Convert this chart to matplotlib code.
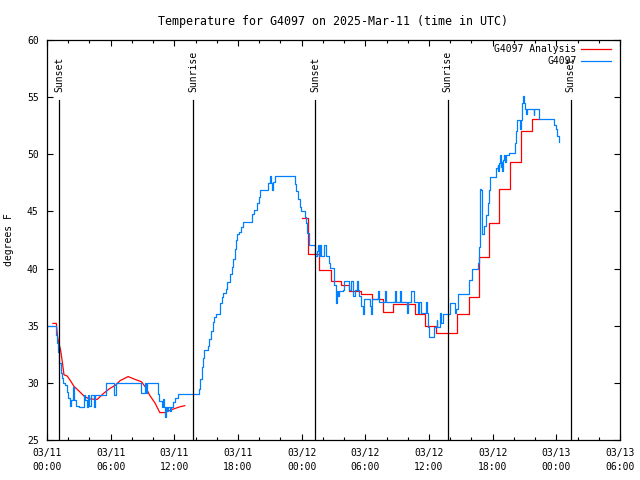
import matplotlib
matplotlib.use("Agg")
from matplotlib import pyplot as plt
from matplotlib.ticker import MultipleLocator

# hours since 2025-03-11 00:00 UTC
analysis_a_t = [0.56, 0.88, 1.0, 1.29, 1.45, 1.6, 1.9, 2.2, 2.54, 3.0, 3.48, 3.95,
                4.73, 5.36, 5.9, 6.46, 6.9, 7.65, 8.3, 8.9, 9.3, 9.69, 10.2, 10.63,
                11.1, 11.88, 12.5, 12.98]
analysis_a_v = [35.2, 35.2, 34.0, 32.8, 31.8, 30.7, 30.6, 30.2, 29.7, 29.3, 28.85, 28.6,
                28.55, 29.1, 29.5, 29.8, 30.2, 30.55, 30.3, 30.1, 29.6, 28.9, 28.2, 27.4,
                27.4, 27.7, 27.9, 28.0]

# second part of the analysis (stepped)
analysis_b_t = [24.0, 24.6, 25.68, 26.72, 27.7, 28.5, 29.6, 30.6, 31.65, 32.6, 34.65,
                35.6, 36.65, 38.6, 39.73, 40.73, 41.67, 42.6, 43.62, 44.65, 45.69, 46.4]
analysis_b_v = [44.4, 41.3, 39.9, 38.9, 38.6, 38.05, 37.8, 37.3, 36.2, 36.9, 36.0,
                34.95, 34.4, 36.0, 37.55, 41.0, 44.0, 47.0, 49.3, 52.0, 53.05, 53.05]

obs_t = [0.0, 0.75, 0.85, 0.95, 1.05, 1.15, 1.3, 1.4, 1.5, 1.7, 1.85, 2.0, 2.15, 2.3,
         2.45, 2.55, 2.7, 3.0, 3.3, 3.5, 3.6, 3.75, 3.9, 4.0, 4.1, 4.3, 4.45, 4.55,
         5.5, 5.6, 6.3, 6.35, 6.5, 8.8, 8.85, 9.2, 9.3, 9.45, 10.35, 10.45, 10.6,
         10.8, 10.9, 11.0, 11.1, 11.2, 11.3, 11.45, 11.6, 11.7, 11.9, 12.1, 12.35,
         14.05, 14.14, 14.3, 14.45, 14.6, 14.7, 14.77, 15.18, 15.3, 15.45, 15.6,
         15.75, 15.9, 16.22, 16.35, 16.48, 16.59, 16.85, 17.0, 17.2, 17.4, 17.55,
         17.7, 17.78, 17.9, 18.1, 18.3, 18.47, 19.19, 19.35, 19.47, 19.72, 19.8,
         19.95, 20.1, 20.73, 20.85, 20.98, 21.1, 21.2, 21.3, 21.45, 23.18, 23.35,
         23.5, 23.65, 23.8, 23.96, 24.2, 24.3, 24.4, 24.5, 24.68, 25.21, 25.3, 25.4,
         25.53, 25.68, 25.74, 25.85, 26.15, 26.25, 26.56, 26.68, 27.0, 27.09, 27.2,
         27.25, 27.3, 27.41, 27.5, 27.88, 28.03, 28.44, 28.5, 28.66, 28.88, 29.04,
         29.19, 29.29, 29.45, 29.6, 29.76, 29.91, 30.48, 30.54, 30.64, 31.2, 31.3,
         31.86, 31.95, 32.8, 32.9, 33.3, 33.4, 33.9, 34.0, 34.3, 34.6, 35.0, 35.1,
         35.25, 35.7, 35.8, 35.87, 35.97, 36.44, 36.5, 36.75, 36.8, 37.0, 37.1,
         37.29, 38.0, 38.38, 38.45, 38.55, 38.69, 39.73, 40.04, 40.58, 40.65, 40.73,
         40.8, 40.9, 40.98, 41.14, 41.2, 41.4, 41.52, 41.67, 41.77, 42.3, 42.36,
         42.46, 42.5, 42.6, 42.71, 42.77, 42.82, 42.87, 42.93, 43.0, 43.1, 43.2,
         43.25, 43.56, 44.12, 44.2, 44.34, 44.5, 44.55, 44.62, 44.7, 44.81, 44.9,
         44.96, 45.05, 45.15, 45.2, 45.8, 45.85, 45.93, 46.3, 46.38, 47.7, 47.8,
         47.95, 48.1, 48.26]
obs_v = [35.0, 35.0, 34.2, 33.5, 32.7, 31.7, 30.9, 30.4, 30.0, 29.8, 29.2, 28.7, 28.0, 28.5,
         29.6, 28.5, 28.0, 27.9, 27.9, 28.9, 28.5, 27.9, 28.9, 28.0, 28.9, 28.9, 27.9, 28.9,
         28.9, 30.0, 30.0, 28.9, 30.0, 30.0, 29.1, 30.0, 29.1, 30.0, 30.0, 29.0, 28.4,
         27.9, 28.6, 27.9, 27.0, 27.9, 27.5, 27.9, 27.5, 27.9, 28.3, 28.7, 29.0,
         29.0, 29.0, 29.5, 30.3, 31.4, 32.2, 32.9, 33.2, 33.8, 34.5, 35.3,
         35.8, 36.0, 36.0, 37.0, 37.5, 37.9, 38.2, 38.8, 39.5, 40.1, 40.8,
         41.7, 42.5, 43.0, 43.2, 43.6, 44.1, 44.1, 44.8, 45.1, 45.1, 45.7,
         46.3, 46.9, 46.9, 47.5, 48.1, 47.5, 46.9, 47.6, 48.1, 48.1, 47.4,
         46.8, 46.1, 45.4, 45.0, 45.0, 44.5, 44.0, 43.1, 42.06, 41.3, 41.1, 41.5,
         42.06, 41.1, 42.06, 41.1, 42.06, 41.1, 40.5, 40.06, 39.3, 38.6, 37.6,
         37.0, 38.0, 37.6, 38.0, 38.15, 38.9, 38.9, 38.15, 38.9, 37.6, 38.15,
         38.9, 38.15, 37.6, 36.7, 36.05, 37.3, 36.7, 36.05, 37.3, 38.0, 37.05,
         38.0, 37.05, 38.0, 37.05, 38.0, 37.05, 36.1, 37.05, 38.0, 37.05, 36.1, 37.05,
         36.1, 37.05, 36.1, 34.9, 34.0, 34.0, 34.9, 35.5, 34.9, 36.1, 35.2,
         36.0, 37.0, 37.0, 36.1, 36.5, 37.8, 39.0, 40.0, 40.0, 40.5, 41.9,
         47.0, 46.9, 43.0, 43.1, 43.7, 44.7, 45.7, 46.9, 48.0, 48.0, 48.8,
         49.06, 48.5, 49.2, 49.9, 48.9, 49.3, 48.5, 49.3, 49.5, 49.9, 49.3,
         49.9, 50.1, 51.0, 52.0, 53.0, 53.0, 52.6, 52.2, 53.0, 54.5, 55.1,
         54.5, 54.0, 53.5, 54.0, 54.0, 53.4, 54.0, 54.0, 53.05, 53.05, 52.6,
         52.2, 51.6, 51.1]

sun_t = [1.17, 13.8, 25.25, 37.75, 49.35]
sun_lbl = ["Sunset", "Sunrise", "Sunset", "Sunrise", "Sunset"]

tick_t = [0, 6, 12, 18, 24, 30, 36, 42, 48, 54]
tick_lbl = ["03/11\n00:00", "03/11\n06:00", "03/11\n12:00", "03/11\n18:00",
            "03/12\n00:00", "03/12\n06:00", "03/12\n12:00", "03/12\n18:00",
            "03/13\n00:00", "03/13\n06:00"]

plt.rcParams['font.family'] = ['DejaVu Sans Mono']
plt.rcParams['font.size'] = 7

fig = plt.figure(figsize=(6.4, 4.8), dpi=100)
ax = fig.add_axes([47/640, 40/480, 573/640, 400/480])

red = '#ff0000'
blue = '#0080ff'
ax.plot(analysis_a_t, analysis_a_v, color=red, lw=0.9, label='G4097 Analysis')
ax.plot(analysis_b_t, analysis_b_v, color=red, lw=0.9, drawstyle='steps-post')
ax.plot(obs_t, obs_v, color=blue, lw=0.9, drawstyle='steps-post', label='G4097')

for t, s in zip(sun_t, sun_lbl):
    ax.axvline(t, ymin=0, ymax=0.85, color='black', lw=0.9)
    ax.text(t, 0.87, s, transform=ax.get_xaxis_transform(), rotation=90,
            ha='center', va='bottom')

ax.set_xlim(0, 54)
ax.set_ylim(25, 60)
ax.set_xticks(tick_t)
ax.set_xticklabels(tick_lbl, linespacing=1.4)
ax.xaxis.set_minor_locator(MultipleLocator(2))
ax.set_yticks(range(25, 61, 5))
ax.tick_params(which='both', direction='in', top=True, right=True, width=0.8)
ax.tick_params(which='major', length=4.5, pad=6)
ax.tick_params(which='minor', length=2.5)
for sp in ax.spines.values():
    sp.set_linewidth(0.9)

ax.set_ylabel('degrees F')
ax.yaxis.set_label_coords(-0.058, 0.5)
ax.set_title('Temperature for G4097 on 2025-Mar-11 (time in UTC)', pad=11)

leg = ax.legend(loc='upper right', bbox_to_anchor=(0.985, 0.99), frameon=False,
                markerfirst=False, handlelength=3.1, handletextpad=0.5,
                labelspacing=0.25, borderpad=0, borderaxespad=0)

plt.savefig('out.png')
